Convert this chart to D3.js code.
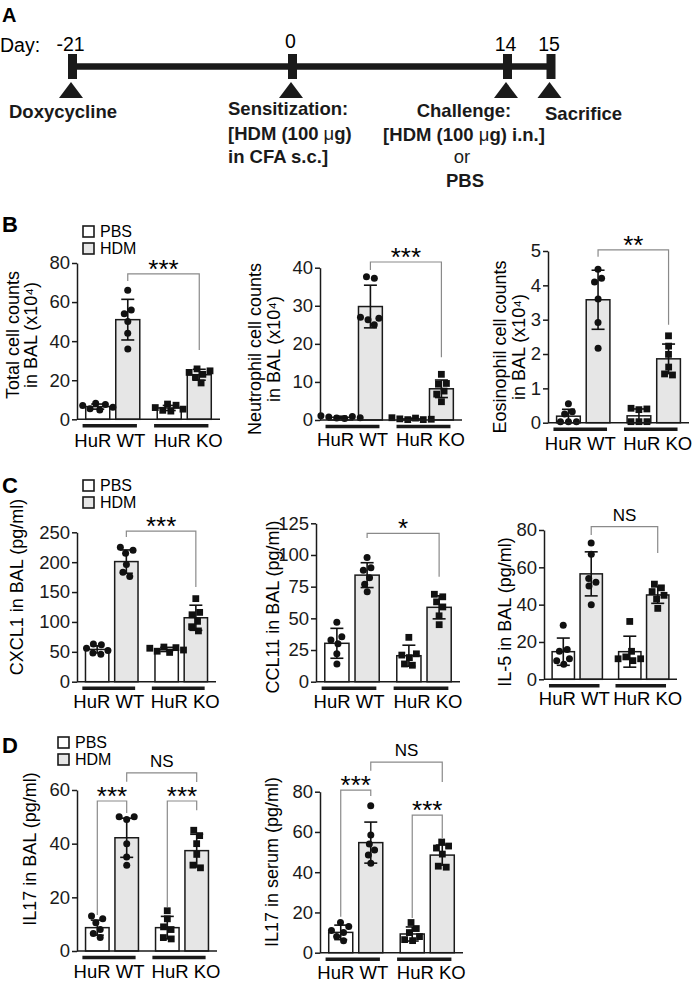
<!DOCTYPE html>
<html><head><meta charset="utf-8">
<script src="https://cdn.jsdelivr.net/npm/d3@7"></script>
<style>
body{margin:0;background:#fff}
svg{display:block;font-family:"Liberation Sans",Arial,Helvetica,sans-serif}
</style></head><body>
<svg id="fig" width="700" height="984"></svg>
<script>
// ================= DATA =================
const groups = ["HuR WT", "HuR KO"];
const treatments = ["PBS", "HDM"];
// bar order in every series: WT-PBS, WT-HDM, KO-PBS, KO-HDM

// Panel A timeline
const dayTicks = [-21, 0, 14, 15];
const dayLabels = ["-21", "0", "14", "15"];

// Panel B
const totalTicks = [0, 20, 40, 60, 80];
const totalMean = [6.5, 51, 5.8, 22.8];
const totalSD = [1.3, 10.4, 1.3, 2.8];
const totalPts = [[8.2, 7.6, 7.0, 6.2, 5.4, 4.8], [66, 56, 54, 50, 44, 36], [7.8, 7.2, 6.0, 5.2, 4.6, 4.2], [25.8, 24.8, 24.0, 23.0, 21.5, 18.6]];

const neutTicks = [0, 10, 20, 30, 40];
const neutMean = [0.7, 29.8, 0.3, 8.2];
const neutSD = [0.3, 5.6, 0.2, 2.3];
const neutPts = [[1.1, 0.9, 0.8, 0.6, 0.5, 0.4], [37.6, 37.2, 27.0, 26.7, 26.3, 25.0], [0.6, 0.5, 0.3, 0.2, 0.1, 0.1], [12, 9.6, 9.4, 7.6, 6.8, 4.8]];

const eosTicks = [0, 1, 2, 3, 4, 5];
const eosMean = [0.19, 3.58, 0.2, 1.86];
const eosSD = [0.2, 0.86, 0.2, 0.43];
const eosPts = [[0.55, 0.32, 0.25, 0.03, 0.03, 0.03], [4.47, 4.21, 4.1, 3.6, 2.92, 2.17], [0.42, 0.4, 0.38, 0.03, 0.03, 0.03], [2.53, 2.23, 1.99, 1.62, 1.42, 1.39]];

// Panel C
const cxclTicks = [0, 50, 100, 150, 200, 250];
const cxclMean = [54, 201, 54, 107];
const cxclSD = [6, 19.5, 3.5, 21];
const cxclPts = [[63, 62, 56, 52, 48, 46], [225, 220, 215, 196, 183, 176], [58, 57, 56, 53, 51, 49], [139, 116, 112, 101, 92, 85]];

const cclTicks = [0, 25, 50, 75, 100, 125];
const cclMean = [30.3, 84.1, 20.5, 58.7];
const cclSD = [11.8, 9.8, 8.3, 9.1];
const cclPts = [[47, 35.5, 33, 30, 22, 14], [98, 90, 88, 82, 77, 71], [35, 22, 21, 19, 14, 13], [69, 67, 63, 59, 52, 45]];

const il5Ticks = [0, 20, 40, 60, 80];
const il5Mean = [14.8, 56.5, 14.8, 45.2];
const il5SD = [7.3, 11.8, 8.3, 4.5];
const il5Pts = [[29, 16, 15, 11, 10, 8], [73, 67, 54, 52, 50, 40], [31, 15, 12, 11, 11, 10], [51, 49, 47, 45, 43, 38]];

// Panel D
const il17balTicks = [0, 20, 40, 60];
const il17balMean = [8.7, 42.2, 8.7, 37.4];
const il17balSD = [2.8, 7.3, 4.2, 6.1];
const il17balPts = [[13, 12, 10.5, 8, 6.5, 5], [50, 50, 49, 40, 35, 32], [15, 12, 9, 8, 5, 4.5], [45, 43, 40, 36, 32, 31]];

const il17serTicks = [0, 20, 40, 60, 80];
const il17serMean = [10.1, 54.7, 9.3, 48.5];
const il17serSD = [3.6, 10.2, 3.5, 5];
const il17serPts = [[15, 13, 11, 10, 8, 6], [73, 58.5, 54, 51, 48.5, 44.5], [15, 12, 10, 8, 6.5, 6], [55, 53, 52, 49, 43, 42.5]];

// ================= DRAWING =================
const svg = d3.select("#fig");
const HDM_FILL = "#e6e6e6";
const BRACKET = "#8a8a8a";

// ---------- Panel A ----------
(function panelA() {
  const g = svg.append("g");
  const x = d3.scaleLinear().domain(dayTicks).range([72.5, 292.5, 507.5, 551]);
  g.append("text").attr("x", 2).attr("y", 22).attr("font-size", 20).attr("font-weight", "bold").text("A");
  g.append("text").attr("x", 0).attr("y", 52).attr("font-size", 19.5).text("Day:");
  g.append("line").attr("x1", x(-21)).attr("x2", x(15)).attr("y1", 66.5).attr("y2", 66.5)
    .attr("stroke", "#1a1a1a").attr("stroke-width", 6.5);
  g.selectAll("rect.tk").data(dayTicks).join("rect").attr("class", "tk")
    .attr("x", d => x(d) - 4.5).attr("y", 54).attr("width", 9).attr("height", 25).attr("fill", "#1a1a1a");
  g.selectAll("text.dl").data(dayTicks).join("text").attr("class", "dl")
    .attr("x", d => x(d) - 2).attr("y", d => d === 0 ? 48 : 51).attr("text-anchor", "middle").attr("font-size", 19.5)
    .text((d, i) => dayLabels[i]);
  g.selectAll("path.tri").data(dayTicks).join("path").attr("class", "tri")
    .attr("d", d => { const c = x(d) - 1.5; return `M${c},82 L${c + 12},98 L${c - 12},98 Z`; })
    .attr("fill", "#1a1a1a");
  const B = 18.5;
  function bt(xx, yy, anchor, parts, weight) {
    const t = g.append("text").attr("x", xx).attr("y", yy).attr("text-anchor", anchor)
      .attr("font-size", B).attr("font-weight", weight || "bold").attr("fill", "#1a1a1a");
    parts.forEach(p => {
      if (typeof p === "string") t.append("tspan").text(p);
      else t.append("tspan").attr("font-weight", "normal").text(p.n);
    });
  }
  bt(9, 118, "start", ["Doxycycline"]);
  bt(228, 115, "start", ["Sensitization:"]);
  bt(228, 140, "start", ["[HDM (100 ", {n: "\u03bc"}, "g)"]);
  bt(228, 163, "start", ["in CFA s.c.]"]);
  bt(464, 117, "middle", ["Challenge:"]);
  bt(464, 141, "middle", ["[HDM (100 ", {n: "\u03bc"}, "g) i.n.]"]);
  bt(462, 163, "middle", ["or"], "normal");
  bt(465, 187, "middle", ["PBS"]);
  bt(545, 120, "start", ["Sacrifice"]);
})();

// ---------- helpers ----------
function panelLetter(t, x, y) {
  svg.append("text").attr("x", x).attr("y", y).attr("font-size", 22).attr("font-weight", "bold").text(t);
}
function legend(x, y) {
  const g = svg.append("g");
  treatments.forEach((t, i) => {
    g.append("rect").attr("x", x).attr("y", y + i * 17).attr("width", 11).attr("height", 11)
      .attr("fill", t === "PBS" ? "#fff" : HDM_FILL).attr("stroke", "#1a1a1a").attr("stroke-width", 1.6);
    g.append("text").attr("x", x + 17).attr("y", y + i * 17 + 11).attr("font-size", 16).text(t);
  });
}

function drawChart(cfg) {
  const g = svg.append("g");
  const y = d3.scaleLinear().domain([0, cfg.max]).range([cfg.y0, cfg.yTop]);
  const gx = d3.scalePoint().domain(groups).range([cfg.x, cfg.x + cfg.w]).padding(0.5);
  const tx = d3.scalePoint().domain(treatments).range([-cfg.w * 0.105, cfg.w * 0.105]);
  const bw = cfg.w * 0.168;
  const bars = [];
  groups.forEach((gr, gi) => treatments.forEach((t, ti) => {
    const i = gi * 2 + ti;
    bars.push({gr, t, gi, cx: gx(gr) + tx(t), mean: cfg.mean[i], sd: cfg.sd[i], pts: cfg.pts[i]});
  }));

  // bars
  g.selectAll("rect.bar").data(bars).join("rect").attr("class", "bar")
    .attr("x", d => d.cx - bw / 2).attr("y", d => y(d.mean))
    .attr("width", bw).attr("height", d => y(0) - y(d.mean))
    .attr("fill", d => d.t === "PBS" ? "#fff" : HDM_FILL)
    .attr("stroke", "#1a1a1a").attr("stroke-width", 1.5);

  // points (beeswarm via force layout, y fixed at value)
  bars.forEach(b => {
    const nodes = b.pts.map((v, i) => ({x: b.cx + (i % 2 ? 3 : -3), y: y(v), fy: y(v)}));
    const sim = d3.forceSimulation(nodes)
      .force("x", d3.forceX(b.cx).strength(0.06))
      .force("c", d3.forceCollide(4)).stop();
    for (let k = 0; k < 160; k++) sim.tick();
    if (b.gi === 0) {
      g.selectAll(null).data(nodes).join("circle")
        .attr("cx", d => d.x).attr("cy", d => d.fy).attr("r", 3.5).attr("fill", "#111");
    } else {
      g.selectAll(null).data(nodes).join("rect")
        .attr("x", d => d.x - 3.4).attr("y", d => d.fy - 3.4).attr("width", 6.8).attr("height", 6.8).attr("fill", "#111");
    }
  });

  // error bars
  const eb = g.selectAll("g.eb").data(bars).join("g").attr("class", "eb")
    .attr("stroke", "#111").attr("stroke-width", 1.6);
  eb.append("line").attr("x1", d => d.cx).attr("x2", d => d.cx)
    .attr("y1", d => y(Math.max(0, d.mean - d.sd))).attr("y2", d => y(d.mean + d.sd));
  eb.append("line").attr("x1", d => d.cx - 6.5).attr("x2", d => d.cx + 6.5)
    .attr("y1", d => y(d.mean + d.sd)).attr("y2", d => y(d.mean + d.sd));
  eb.filter(d => d.mean - d.sd > 0).append("line").attr("x1", d => d.cx - 6.5).attr("x2", d => d.cx + 6.5)
    .attr("y1", d => y(d.mean - d.sd)).attr("y2", d => y(d.mean - d.sd));

  // axes
  const ga = g.append("g").attr("transform", `translate(${cfg.x},0)`)
    .call(d3.axisLeft(y).tickValues(cfg.ticks).tickFormat(d3.format("")).tickSize(5).tickSizeOuter(0).tickPadding(2));
  ga.select(".domain").attr("stroke", "#1a1a1a").attr("stroke-width", 1.5);
  ga.selectAll(".tick line").attr("stroke", "#1a1a1a").attr("stroke-width", 1.5);
  ga.selectAll(".tick text").attr("font-size", 18.5).attr("fill", "#1a1a1a")
    .attr("font-family", '"Liberation Sans", Arial, Helvetica, sans-serif');
  g.append("line").attr("x1", cfg.x).attr("x2", cfg.x + cfg.w).attr("y1", y(0)).attr("y2", y(0))
    .attr("stroke", "#1a1a1a").attr("stroke-width", 1.5);

  // group underline and labels
  groups.forEach((gr, gi) => {
    const c = gx(gr) - 3;
    g.append("line").attr("x1", c - cfg.w * 0.19).attr("x2", c + cfg.w * 0.19)
      .attr("y1", y(0) + 6.5).attr("y2", y(0) + 6.5).attr("stroke", "#1a1a1a").attr("stroke-width", 3.5);
    g.append("text").attr("x", gx(gr) + (gi === 0 ? -3 : 4)).attr("y", y(0) + cfg.labelDy)
      .attr("text-anchor", "middle").attr("font-size", 18.5).text(gr);
  });

  // y label
  cfg.label.forEach((ln, i) => {
    g.append("text").attr("transform", `translate(${cfg.labelX[i]},${cfg.labelY}) rotate(-90)`)
      .attr("text-anchor", "middle").attr("dy", "0.35em").attr("font-size", 18).text(ln);
  });

  // significance brackets
  cfg.brackets.forEach(br => {
    const xa = bars[br.a].cx, xb = bars[br.b].cx;
    g.append("path").attr("d", `M${xa},${y(br.l)} V${y(br.top)} H${xb} V${y(br.r)}`)
      .attr("fill", "none").attr("stroke", BRACKET).attr("stroke-width", 1.2);
    const star = br.text.indexOf("*") >= 0;
    g.append("text").attr("x", (xa + xb) / 2).attr("y", star ? y(br.top) + 4 : y(br.top) - 6)
      .attr("text-anchor", "middle").attr("font-size", star ? 26 : 17).text(br.text);
  });
}

// ---------- Panel B ----------
panelLetter("B", 2, 232);
legend(83, 226);
drawChart({x: 77, w: 143, y0: 419.3, yTop: 263, max: 80, ticks: totalTicks, mean: totalMean, sd: totalSD, pts: totalPts,
  label: ["Total cell counts", "in BAL (x10\u2074)"], labelX: [13, 31], labelY: 335, labelDy: 28,
  brackets: [{a: 1, b: 3, top: 74.4, l: 70.8, r: 35.5, text: "***"}]});
drawChart({x: 320, w: 142, y0: 420, yTop: 267.7, max: 40, ticks: neutTicks, mean: neutMean, sd: neutSD, pts: neutPts,
  label: ["Neutrophil cell counts", "in BAL (x10\u2074)"], labelX: [255, 274], labelY: 349, labelDy: 26,
  brackets: [{a: 1, b: 3, top: 41.5, l: 39.4, r: 16.5, text: "***"}]});
drawChart({x: 548, w: 141, y0: 422.7, yTop: 251, max: 5, ticks: eosTicks, mean: eosMean, sd: eosSD, pts: eosPts,
  label: ["Eosinophil cell counts", "in BAL (x10\u2074)"], labelX: [500, 519], labelY: 347, labelDy: 27,
  brackets: [{a: 1, b: 3, top: 5.03, l: 4.83, r: 2.85, text: "**"}]});

// ---------- Panel C ----------
panelLetter("C", 2, 493);
legend(83, 480);
drawChart({x: 77, w: 139, y0: 681.7, yTop: 532.3, max: 250, ticks: cxclTicks, mean: cxclMean, sd: cxclSD, pts: cxclPts,
  label: ["CXCL1 in BAL (pg/ml)"], labelX: [17], labelY: 587, labelDy: 26,
  brackets: [{a: 1, b: 3, top: 252, l: 242, r: 158.5, text: "***"}]});
drawChart({x: 316, w: 144, y0: 681.7, yTop: 523.3, max: 125, ticks: cclTicks, mean: cclMean, sd: cclSD, pts: cclPts,
  label: ["CCL11 in BAL (pg/ml)"], labelX: [273], labelY: 607, labelDy: 26,
  brackets: [{a: 1, b: 3, top: 117, l: 113.4, r: 82.9, text: "*"}]});
drawChart({x: 544, w: 133, y0: 679.3, yTop: 530, max: 80, ticks: il5Ticks, mean: il5Mean, sd: il5SD, pts: il5Pts,
  label: ["IL-5 in BAL (pg/ml)"], labelX: [505], labelY: 612, labelDy: 26,
  brackets: [{a: 1, b: 3, top: 81.8, l: 77.3, r: 67.7, text: "NS"}]});

// ---------- Panel D ----------
panelLetter("D", 2, 753);
legend(58, 737);
drawChart({x: 77, w: 140, y0: 951, yTop: 790, max: 60, ticks: il17balTicks, mean: il17balMean, sd: il17balSD, pts: il17balPts,
  label: ["IL17 in BAL (pg/ml)"], labelX: [30], labelY: 849, labelDy: 27,
  brackets: [{a: 0, b: 1, top: 55.9, l: 13.4, r: 51.4, text: "***"},
             {a: 2, b: 3, top: 55.9, l: 16.4, r: 52.5, text: "***"},
             {a: 1, b: 3, top: 66.4, l: 63.1, r: 63, text: "NS"}]});
drawChart({x: 320, w: 143, y0: 952.7, yTop: 791.7, max: 80, ticks: il17serTicks, mean: il17serMean, sd: il17serSD, pts: il17serPts,
  label: ["IL17 in serum (pg/ml)"], labelX: [272], labelY: 862, labelDy: 26,
  brackets: [{a: 0, b: 1, top: 80.8, l: 17.9, r: 77.9, text: "***"},
             {a: 2, b: 3, top: 68.4, l: 17.2, r: 57, text: "***"},
             {a: 1, b: 3, top: 94.7, l: 90.4, r: 84.8, text: "NS"}]});
</script>
</body></html>
